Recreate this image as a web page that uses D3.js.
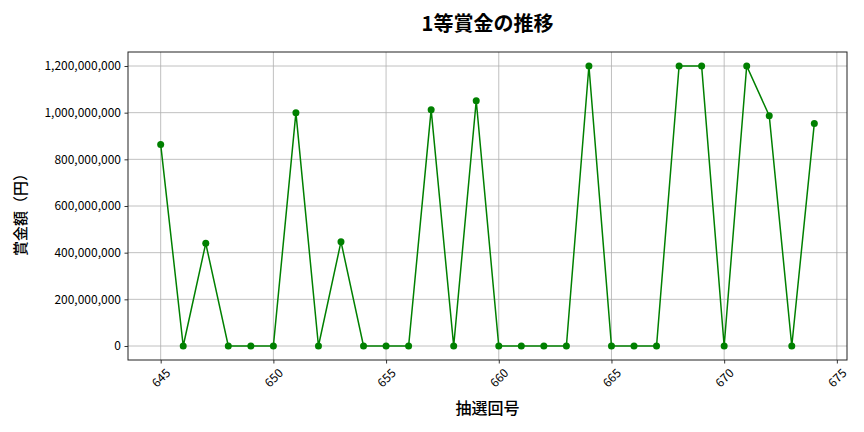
<!DOCTYPE html>
<html><head><meta charset="utf-8">
<script src="https://cdn.jsdelivr.net/npm/d3@7"></script>
<style>
body{margin:0;background:#fff;}
text{font-family:"Noto Sans CJK JP","Noto Sans",sans-serif;}
</style></head>
<body><svg id="c" width="864" height="432"></svg>
<script>
const draws = [645,646,647,648,649,650,651,652,653,654,655,656,657,658,659,660,661,662,663,664,665,666,667,668,669,670,671,672,673,674];
const prizes = [864000000,0,440000000,0,0,0,1000000000,0,447000000,0,0,0,1013000000,0,1051000000,0,0,0,0,1200000000,0,0,0,1200000000,1200000000,0,1200000000,987000000,0,954000000];
const xTicks = [645,650,655,660,665,670,675];
const yTicks = [0,200000000,400000000,600000000,800000000,1000000000,1200000000];
const title = "1等賞金の推移";
const xLabel = "抽選回号";
const yLabel = "賞金額（円）";

const svg = d3.select("#c");
const L=128, R=847, T=52, B=360;
const data = draws.map((d,i)=>({x:d,y:prizes[i]}));
const xr = d3.extent(draws), xp=(xr[1]-xr[0])*0.05;
const yr = [0, d3.max(prizes)], yp=(yr[1]-yr[0])*0.05;
const x = d3.scaleLinear().domain([xr[0]-xp, xr[1]+xp]).range([L,R]);
const y = d3.scaleLinear().domain([yr[0]-yp, yr[1]+yp]).range([B,T]);

// grid
svg.append("g").selectAll("line").data(xTicks.filter(t=>x(t)<=R)).join("line")
  .attr("x1",d=>x(d)).attr("x2",d=>x(d)).attr("y1",T).attr("y2",B)
  .attr("stroke","#b0b0b0").attr("stroke-width",0.8);
svg.append("g").selectAll("line").data(yTicks).join("line")
  .attr("y1",d=>y(d)).attr("y2",d=>y(d)).attr("x1",L).attr("x2",R)
  .attr("stroke","#b0b0b0").attr("stroke-width",0.8);

// axes
const fmt = d3.format(",");
const ya = svg.append("g").attr("transform",`translate(${L},0)`)
  .call(d3.axisLeft(y).tickValues(yTicks).tickFormat(fmt).tickSize(3.5).tickPadding(3.5));
ya.select(".domain").remove();
ya.selectAll("text").attr("font-size",12).attr("fill","#000");
ya.selectAll("line").attr("stroke","#000").attr("stroke-width",0.8);

const xa = svg.append("g").attr("transform",`translate(0,${B})`)
  .call(d3.axisBottom(x).tickValues(xTicks).tickFormat(d3.format("d")).tickSize(3.5).tickPadding(3.5));
xa.select(".domain").remove();
xa.selectAll("line").attr("stroke","#000").attr("stroke-width",0.8);
xa.selectAll("text").attr("font-size",12).attr("fill","#000")
  .attr("text-anchor","middle").attr("y",0).attr("dy","0.35em")
  .attr("transform","translate(0,18) rotate(-45)");

// frame
svg.append("rect").attr("x",L).attr("y",T).attr("width",R-L).attr("height",B-T)
  .attr("fill","none").attr("stroke","#222").attr("stroke-width",1);

// line
svg.append("path").datum(data)
  .attr("d",d3.line().x(d=>x(d.x)).y(d=>y(d.y)))
  .attr("fill","none").attr("stroke","green").attr("stroke-width",1.5);
svg.append("g").selectAll("circle").data(data).join("circle")
  .attr("cx",d=>x(d.x)).attr("cy",d=>y(d.y)).attr("r",3.5).attr("fill","green");

// labels
svg.append("text").attr("x",(L+R)/2).attr("y",24).attr("dy","0.35em").attr("text-anchor","middle")
  .attr("font-size",20).attr("font-weight","bold").text(title);
svg.append("text").attr("x",(L+R)/2).attr("y",408).attr("dy","0.35em").attr("text-anchor","middle")
  .attr("font-size",16).attr("font-weight","500").text(xLabel);
svg.append("text").attr("transform",`translate(20.5,211) rotate(-90)`).attr("dy","0.35em").attr("text-anchor","middle")
  .attr("font-size",15).attr("font-weight","500").text(yLabel);
</script></body></html>
